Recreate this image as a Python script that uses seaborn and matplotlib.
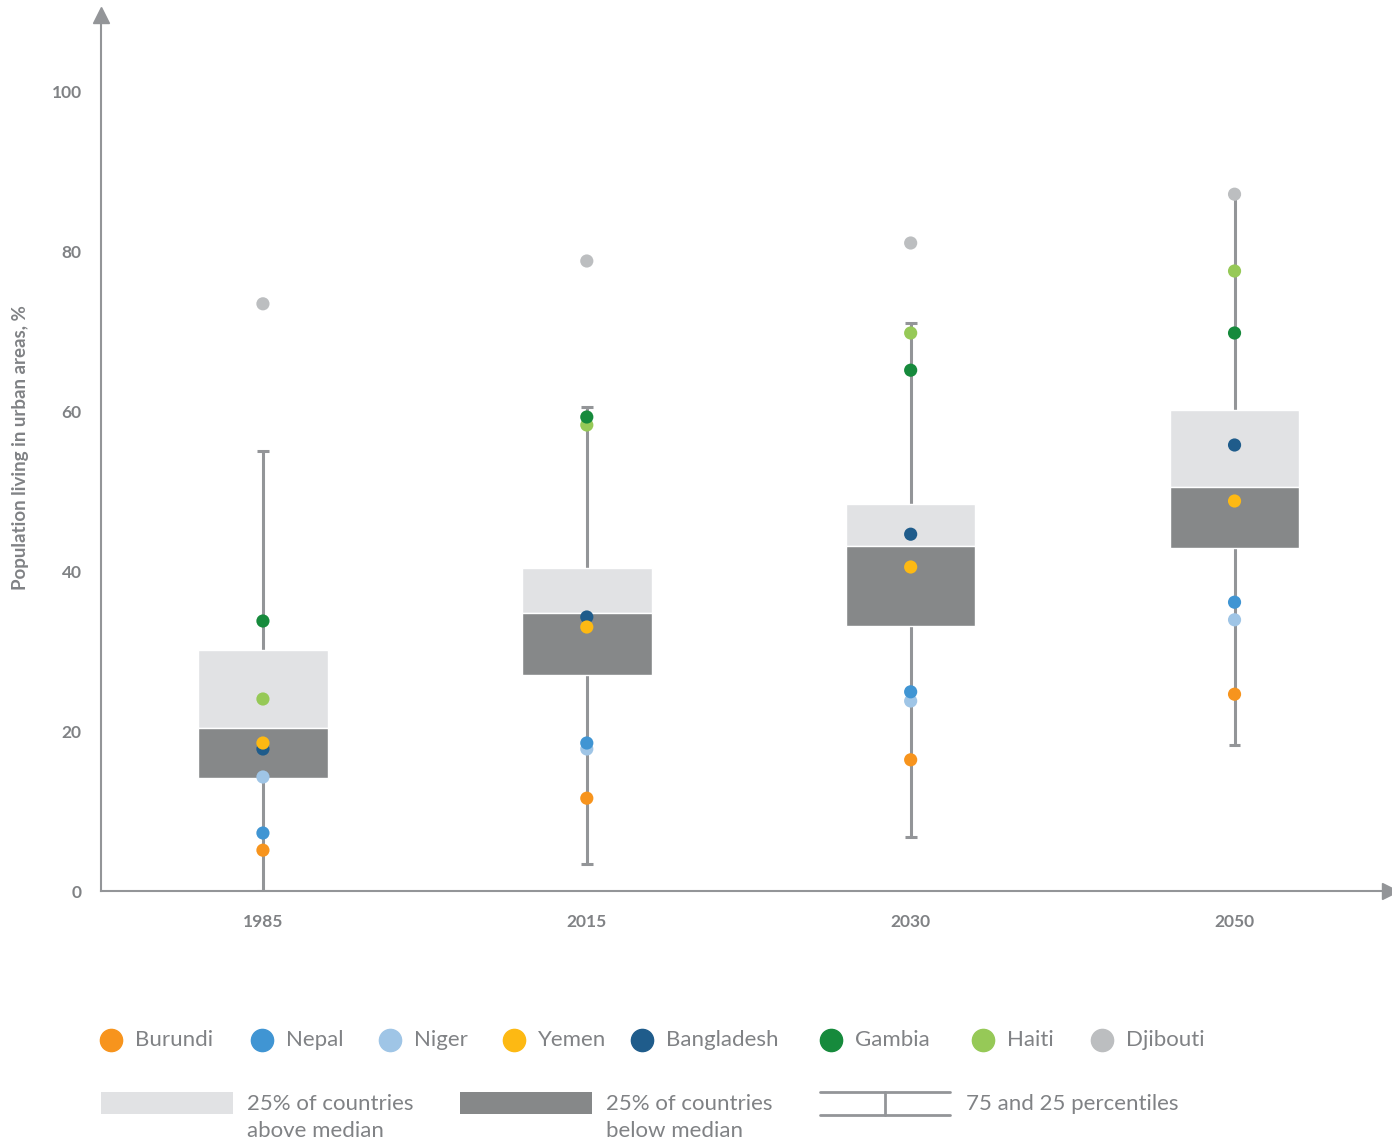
import matplotlib.pyplot as plt
import numpy as np
import pandas as pd
import seaborn as sns
from matplotlib.lines import Line2D
from matplotlib.patches import Rectangle

years = ['1985', '2015', '2030', '2050']

# box parts: whiskers, lower quartile, median, upper quartile
whisker_low = [0.0, 3.4, 6.75, 18.25]
whisker_high = [55.0, 60.5, 71.0, 87.1]
quart_low = [14.1, 27.0, 33.1, 42.9]
median = [20.4, 34.75, 43.1, 50.5]
quart_high = [30.1, 40.4, 48.4, 60.1]

countries = ['Burundi', 'Nepal', 'Niger', 'Yemen', 'Bangladesh', 'Gambia', 'Haiti', 'Djibouti']
burundi = [5.1, 11.6, 16.4, 24.6]
nepal = [7.25, 18.5, 24.9, 36.1]
niger = [14.25, 17.75, 23.75, 33.9]
yemen = [18.5, 33.0, 40.5, 48.75]
bangladesh = [17.75, 34.25, 44.6, 55.75]
gambia = [33.75, 59.25, 65.1, 69.75]
haiti = [24.0, 58.25, 69.75, 77.5]
djibouti = [73.4, 78.75, 81.0, 87.1]

country_colors = ['#f7941d', '#4095d3', '#9fc5e6', '#fdb913', '#1f5c8b', '#168a3c', '#96c957', '#bcbec0']
light_box = '#e1e2e4'
dark_box = '#868889'
line_grey = '#939598'
text_grey = '#808285'

W, H = 1392, 1142


def px(x, y):
    return x / W, 1 - y / H


values = [burundi, nepal, niger, yemen, bangladesh, gambia, haiti, djibouti]
rows = []
# reversed so the first countries end up drawn on top
for name, vals in reversed(list(zip(countries, values))):
    for i, v in enumerate(vals):
        rows.append({'pos': i, 'year': years[i], 'country': name, 'value': v})
dots = pd.DataFrame(rows)

sns.set_theme(style='white')
plt.rcParams['font.family'] = ['Lato', 'DejaVu Sans']

fig = plt.figure(figsize=(W / 100, H / 100), dpi=100)
l, t = px(101, 15)
r, b = px(1390, 891)
ax = fig.add_axes([l, b, r - l, t - b])

pos = np.arange(len(years))
ax.vlines(pos, whisker_low, whisker_high, color=line_grey, lw=2.2, zorder=1)
ax.hlines(whisker_low, pos - 0.018, pos + 0.018, color=line_grey, lw=2.2, zorder=1)
ax.hlines(whisker_high, pos - 0.018, pos + 0.018, color=line_grey, lw=2.2, zorder=1)

ax.bar(pos, np.subtract(quart_high, median), bottom=median, width=0.4, color=light_box, zorder=2)
ax.bar(pos, np.subtract(median, quart_low), bottom=quart_low, width=0.4, color=dark_box, zorder=2)

sns.scatterplot(data=dots, x='pos', y='value', hue='country', palette=dict(zip(countries, country_colors)),
                s=90, linewidth=0, legend=False, ax=ax, zorder=3)

ax.set_xlim(-0.5, 3.48)
ax.set_ylim(0, 109.5)
ax.set_xticks(pos)
ax.set_xticklabels(years)
ax.set_yticks(range(0, 101, 20))
ax.set_xlabel(None)
ax.set_ylabel(None)
ax.tick_params(axis='both', length=0, labelsize=12.5, labelcolor=text_grey)
ax.tick_params(axis='x', pad=16.5)
ax.tick_params(axis='y', pad=14)
for lab in ax.get_xticklabels() + ax.get_yticklabels():
    lab.set_fontweight('bold')
sns.despine(ax=ax)
for s in ['left', 'bottom']:
    ax.spines[s].set_color(line_grey)
    ax.spines[s].set_linewidth(1.5)

# axis arrows
ax.plot([0], [1], marker='^', ms=11, color=line_grey, transform=ax.transAxes, clip_on=False)
ax.plot([1], [0], marker='>', ms=11, color=line_grey, transform=ax.transAxes, clip_on=False)

fig.text(*px(21, 448), 'Population living in urban areas, %', rotation=90, ha='center', va='center',
         fontsize=13.5, color=text_grey, fontweight='bold')

# legend, row of countries
circle_x = [111, 262, 390, 514, 642, 831, 983, 1102]
for cx, name, col in zip(circle_x, countries, country_colors):
    fig.add_artist(Line2D([cx / W], [1 - 1040 / H], marker='o', ms=16, color=col, lw=0))
    fig.text(*px(cx + 24, 1040), name, ha='left', va='center', fontsize=16, color=text_grey)

# legend, box parts
for x0, col, lines in [(101, light_box, ['25% of countries', 'above median']),
                       (460, dark_box, ['25% of countries', 'below median'])]:
    fig.add_artist(Rectangle(px(x0, 1114), 132 / W, 22 / H, color=col, lw=0))
    fig.text(*px(x0 + 146, 1104), lines[0], ha='left', va='center', fontsize=16, color=text_grey)
    fig.text(*px(x0 + 146, 1131), lines[1], ha='left', va='center', fontsize=16, color=text_grey)

for yy in [1092, 1115]:
    fig.add_artist(Line2D([820 / W, 950 / W], [1 - yy / H] * 2, color=line_grey, lw=2))
fig.add_artist(Line2D([885 / W] * 2, [1 - 1092 / H, 1 - 1115 / H], color=line_grey, lw=2))
fig.text(*px(966, 1104), '75 and 25 percentiles', ha='left', va='center', fontsize=16, color=text_grey)

fig.savefig('out.png', dpi=100, facecolor='white')
